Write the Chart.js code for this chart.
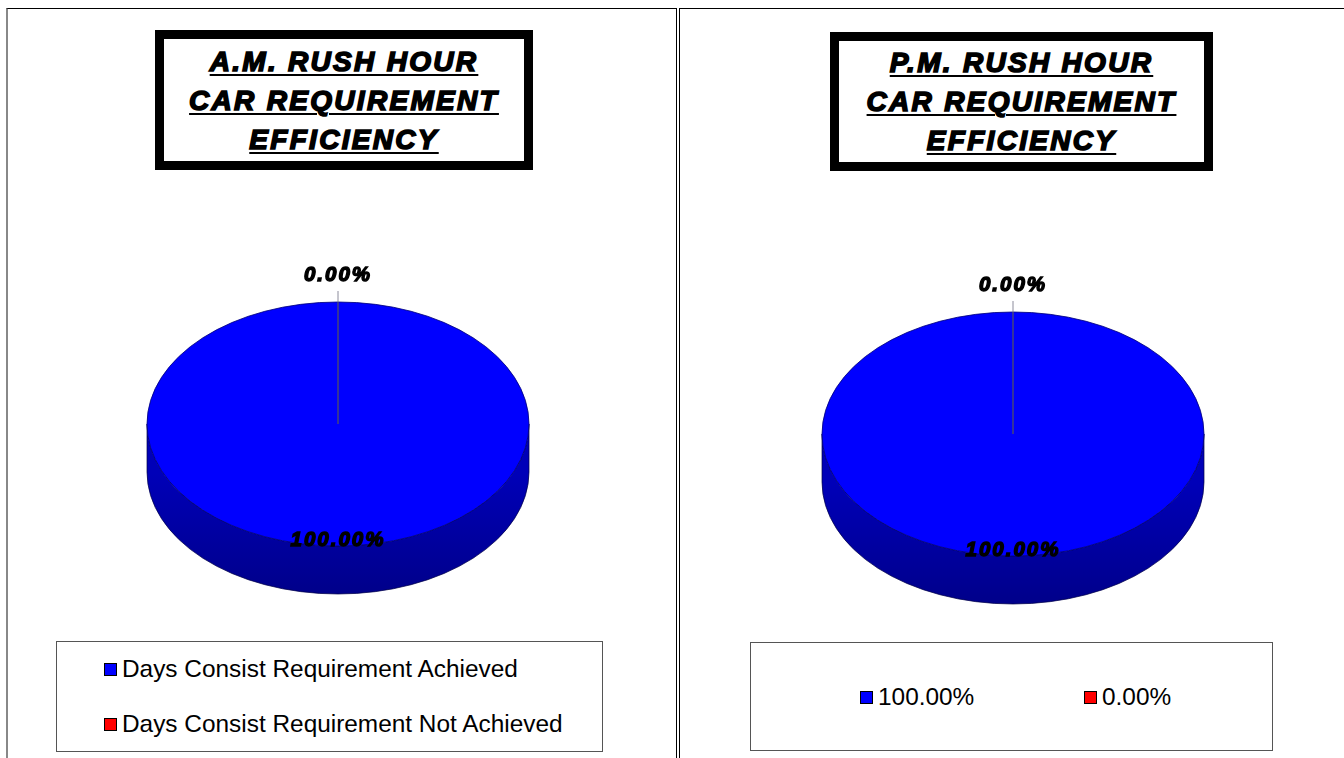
<!DOCTYPE html>
<html>
<head>
<meta charset="utf-8">
<script src="https://cdn.jsdelivr.net/npm/chart.js@4/dist/chart.umd.min.js"></script>
<style>
  html, body { margin: 0; padding: 0; background: #fff; overflow: hidden; }
  body { width: 1344px; height: 758px; position: relative; font-family: "Liberation Sans", Arial, sans-serif; }
  .panel { position: absolute; top: 8px; height: 800px; border: 1px solid #000; box-sizing: border-box; }
  #panelL { left: 6px; width: 671px; border-left: 2px solid #888; }
  #panelR { left: 679px; width: 700px; }
  .title {
    position: absolute; border: 9px solid #000; box-sizing: border-box; background: #fff;
    display: flex; flex-direction: column; justify-content: center; align-items: center;
    font: italic bold 28px "Liberation Sans", Arial, sans-serif; line-height: 39px;
    letter-spacing: 2.3px; -webkit-text-stroke: 1.6px #000; color: #000;
  }
  .title span { text-decoration: underline; text-decoration-thickness: 2px; text-underline-offset: 3px; white-space: nowrap; }
  canvas { position: absolute; }
  .legend { position: absolute; border: 1px solid #555; box-sizing: border-box; background: #fff;
    font: 24.4px "Liberation Sans", Arial, sans-serif; color: #000; }
  .legend .item { display: flex; align-items: center; white-space: nowrap; height: 28px; }
  .legend .mk { width: 11px; height: 11px; border: 1px solid #000; margin-right: 5px; flex: none; }
</style>
</head>
<body>
<div class="panel" id="panelL"></div>
<div class="panel" id="panelR"></div>

<div class="title" id="titleAM" style="left:155px; top:30px; width:378px; height:140px;"></div>
<div class="title" id="titlePM" style="left:830px; top:32px; width:383px; height:139px;"></div>

<canvas id="pieAM" width="420" height="420" style="left:128px; top:214px;"></canvas>
<canvas id="piePM" width="420" height="420" style="left:803px; top:224px;"></canvas>

<div class="legend" id="legendAM" style="left:56px; top:641px; width:547px; height:111px;"></div>
<div class="legend" id="legendPM" style="left:750px; top:642px; width:523px; height:109px;"></div>

<script>
// ---------- data ----------
const titleAM = ['A.M. RUSH HOUR', 'CAR REQUIREMENT', 'EFFICIENCY'];
const titlePM = ['P.M. RUSH HOUR', 'CAR REQUIREMENT', 'EFFICIENCY'];
const categories = ['Days Consist Requirement Achieved', 'Days Consist Requirement Not Achieved'];
const amValues = [100, 0];
const pmValues = [100, 0];
const pmLegendLabels = ['100.00%', '0.00%'];
const sliceColors = ['#0000FF', '#FF0000'];
const sideColors = ['#0000B8', '#B80000'];
const sideDarkColors = ['#00008A', '#8A0000'];

// ---------- titles ----------
function fillTitle(id, lines) {
  const el = document.getElementById(id);
  lines.forEach(t => { const s = document.createElement('span'); s.textContent = t; el.appendChild(s); });
}
fillTitle('titleAM', titleAM);
fillTitle('titlePM', titlePM);

// ---------- 3D pie plugin ----------
const pie3d = {
  id: 'pie3d',
  beforeDatasetsDraw(chart, args, opts) {
    const meta = chart.getDatasetMeta(0);
    const a0 = meta.data[0];
    const x = a0.x, y = a0.y, R = a0.outerRadius;
    const ry = R * opts.tilt, d = opts.depth;
    const ctx = chart.ctx;
    ctx.save();
    meta.data.forEach((arc, i) => {
      const s = Math.max(arc.startAngle, 0), e = Math.min(arc.endAngle, Math.PI);
      if (e <= s) return;
      const g = ctx.createLinearGradient(0, y + ry * 0.4, 0, y + ry + d);
      g.addColorStop(0, opts.sideColors[i]);
      g.addColorStop(1, opts.sideDark[i]);
      ctx.beginPath();
      ctx.ellipse(x, y, R, ry, 0, s, e, false);
      ctx.ellipse(x, y + d, R, ry, 0, e, s, true);
      ctx.closePath();
      ctx.fillStyle = g;
      ctx.fill();
      ctx.lineWidth = 1;
      ctx.strokeStyle = 'rgba(0,0,70,0.7)';
      ctx.stroke();
    });
    ctx.restore();
    ctx.save();
    ctx.translate(x, y);
    ctx.scale(1, opts.tilt);
    ctx.translate(-x, -y);
  },
  afterDatasetsDraw(chart, args, opts) {
    chart.ctx.restore();
    const meta = chart.getDatasetMeta(0);
    const ctx = chart.ctx;
    const vals = chart.data.datasets[0].data;
    const total = vals.reduce((p, c) => p + c, 0);
    ctx.save();
    ctx.font = 'italic bold 20.5px "Liberation Sans", Arial, sans-serif';
    ctx.letterSpacing = '2px';
    ctx.textAlign = 'center';
    ctx.textBaseline = 'middle';
    ctx.fillStyle = '#000';
    ctx.strokeStyle = '#000';
    ctx.lineWidth = 1.4;
    meta.data.forEach((arc, i) => {
      const x = arc.x, y = arc.y, R = arc.outerRadius, ry = R * opts.tilt;
      const mid = (arc.startAngle + arc.endAngle) / 2;
      const txt = (vals[i] / total * 100).toFixed(2) + '%';
      let lx, ly;
      if (vals[i] === 0) {
        lx = x + Math.cos(mid) * (R + 27);
        ly = y + Math.sin(mid) * (ry + 27);
        ctx.save();
        ctx.strokeStyle = 'rgba(120,120,140,0.85)';
        ctx.lineWidth = 1;
        ctx.beginPath();
        ctx.moveTo(x + Math.cos(mid) * (R + 11), y + Math.sin(mid) * (ry + 11));
        ctx.lineTo(x, y);
        ctx.stroke();
        ctx.restore();
      } else {
        lx = x + Math.cos(mid) * R * 0.95;
        ly = y + Math.sin(mid) * ry * 0.95;
      }
      ctx.fillText(txt, lx, ly);
      ctx.strokeText(txt, lx, ly);
    });
    ctx.restore();
  }
};

function makePie(id, values) {
  return new Chart(document.getElementById(id), {
    type: 'pie',
    data: {
      labels: categories,
      datasets: [{
        data: values,
        backgroundColor: sliceColors,
        borderColor: '#00007A',
        borderWidth: 1,
        radius: 191
      }]
    },
    options: {
      responsive: false,
      animation: false,
      devicePixelRatio: 1,
      layout: { padding: 0 },
      plugins: {
        legend: { display: false },
        tooltip: { enabled: false },
        title: { display: false },
        pie3d: { tilt: 122 / 191, depth: 48, sideColors: sideColors, sideDark: sideDarkColors }
      }
    },
    plugins: [pie3d]
  });
}
const chartAM = makePie('pieAM', amValues);
const chartPM = makePie('piePM', pmValues);

// ---------- HTML legends from chart data ----------
function buildLegend(id, chart, labels, styleFn) {
  const el = document.getElementById(id);
  const items = chart.options.plugins.legend.labels.generateLabels(chart);
  items.forEach((it, i) => {
    const d = document.createElement('div');
    d.className = 'item';
    const mk = document.createElement('span');
    mk.className = 'mk';
    mk.style.background = it.fillStyle;
    const t = document.createElement('span');
    t.textContent = labels[i];
    d.appendChild(mk); d.appendChild(t);
    styleFn(d, i);
    el.appendChild(d);
  });
}
buildLegend('legendAM', chartAM, categories, (d, i) => {
  d.style.position = 'absolute';
  d.style.left = '47px';
  d.style.top = (i === 0 ? 13 : 68) + 'px';
});
buildLegend('legendPM', chartPM, pmLegendLabels, (d, i) => {
  d.style.position = 'absolute';
  d.style.left = (i === 0 ? 109 : 333) + 'px';
  d.style.top = '40px';
});
</script>
</body>
</html>
